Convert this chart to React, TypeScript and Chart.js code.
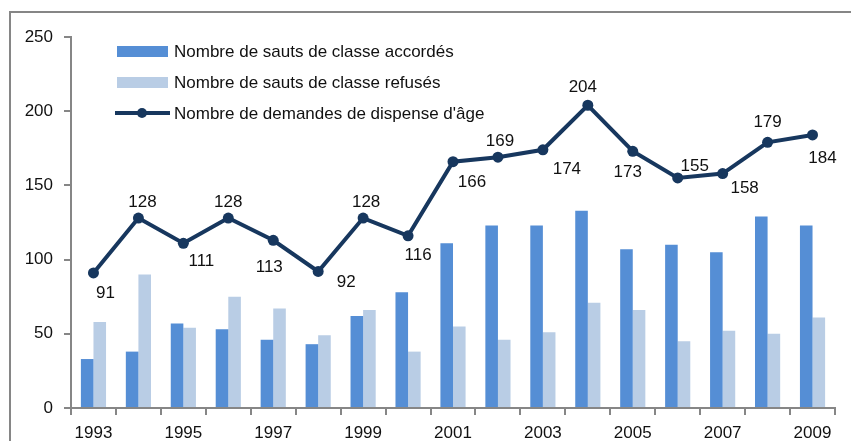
import React, { useEffect, useRef } from "react";
import { Chart, registerables } from "chart.js";

Chart.register(...registerables);

const YEARS = ["1993", "1994", "1995", "1996", "1997", "1998", "1999", "2000", "2001", "2002", "2003", "2004", "2005", "2006", "2007", "2008", "2009"];
const ACCORDES = [33, 38, 57, 53, 46, 43, 62, 78, 111, 123, 123, 133, 107, 110, 105, 129, 123];
const REFUSES = [58, 90, 54, 75, 67, 49, 66, 38, 55, 46, 51, 71, 66, 45, 52, 50, 61];
const DEMANDES = [91, 128, 111, 128, 113, 92, 128, 116, 166, 169, 174, 204, 173, 155, 158, 179, 184];
const Y_TICKS = [0, 50, 100, 150, 200, 250];

const LABEL_ACCORDES = "Nombre de sauts de classe accordés";
const LABEL_REFUSES = "Nombre de sauts de classe refusés";
const LABEL_DEMANDES = "Nombre de demandes de dispense d'âge";

// label placement offsets (style only)
const LABEL_OFFSETS: [number, number][] = [
  [12, 20], [4, -16], [18, 18], [0, -16], [-4, 27], [28, 11], [3, -16], [10, 19],
  [19, 21], [2, -16], [24, 20], [-5, -18], [-5, 21], [17, -12], [22, 15], [0, -20], [10, 23],
];

const FONT = '"Liberation Sans", Arial, sans-serif';
const FS = 17;
const C_ACC = "#558ED5";
const C_REF = "#B9CDE5";
const C_LINE = "#17375E";
const C_AXIS = "#868686";

const legendPlugin = {
  id: "customLegend",
  afterDraw(chart: any) {
    const ctx = chart.ctx;
    ctx.save();
    ctx.font = `${FS}px ${FONT}`;
    ctx.textBaseline = "middle";
    ctx.textAlign = "left";
    chart.data.datasets.forEach((d: any, i: number) => {
      const y = 51 + i * 31;
      if (d.type === "line") {
        ctx.strokeStyle = d.borderColor;
        ctx.lineWidth = 4;
        ctx.beginPath();
        ctx.moveTo(115, y);
        ctx.lineTo(170, y);
        ctx.stroke();
        ctx.fillStyle = d.borderColor;
        ctx.beginPath();
        ctx.arc(142, y, 5, 0, Math.PI * 2);
        ctx.fill();
      } else {
        ctx.fillStyle = d.backgroundColor;
        ctx.fillRect(117, y - 5, 51, 11);
      }
      ctx.fillStyle = "#111";
      ctx.fillText(d.label, 174, y + 1);
    });
    ctx.restore();
  },
};

const dataLabelPlugin = {
  id: "lineLabels",
  afterDatasetsDraw(chart: any) {
    const ctx = chart.ctx;
    ctx.save();
    ctx.font = `${FS}px ${FONT}`;
    ctx.textBaseline = "middle";
    ctx.textAlign = "center";
    ctx.fillStyle = "#111";
    chart.data.datasets.forEach((d: any, di: number) => {
      if (d.type !== "line") return;
      const meta = chart.getDatasetMeta(di);
      meta.data.forEach((el: any, i: number) => {
        const [dx, dy] = LABEL_OFFSETS[i] || [0, -16];
        ctx.fillText(String(d.data[i]), el.x + dx, el.y + dy);
      });
    });
    ctx.restore();
  },
};

export default function App() {
  const ref = useRef<HTMLCanvasElement | null>(null);
  useEffect(() => {
    if (!ref.current) return;
    const chart = new Chart(ref.current, {
      type: "bar",
      data: {
        labels: YEARS,
        datasets: [
          {
            type: "bar",
            label: LABEL_ACCORDES,
            data: ACCORDES,
            backgroundColor: C_ACC,
            borderWidth: 0,
            categoryPercentage: 0.56,
            barPercentage: 1,
            order: 1,
          },
          {
            type: "bar",
            label: LABEL_REFUSES,
            data: REFUSES,
            backgroundColor: C_REF,
            borderWidth: 0,
            categoryPercentage: 0.56,
            barPercentage: 1,
            order: 1,
          },
          {
            type: "line",
            label: LABEL_DEMANDES,
            data: DEMANDES,
            borderColor: C_LINE,
            backgroundColor: C_LINE,
            borderWidth: 4,
            pointRadius: 5.5,
            pointBackgroundColor: C_LINE,
            pointBorderWidth: 0,
            tension: 0,
            order: 0,
          },
        ] as any,
      },
      options: {
        animation: false,
        responsive: false,
        devicePixelRatio: 1,
        layout: { padding: { left: 0, right: 16, top: 37, bottom: 0 } },
        plugins: { legend: { display: false }, tooltip: { enabled: false } },
        scales: {
          x: {
            offset: true,
            grid: { offset: true, drawOnChartArea: false, drawTicks: true, tickLength: 7, color: C_AXIS, lineWidth: 2 },
            border: { color: C_AXIS, width: 2 },
            ticks: {
              autoSkip: false,
              maxRotation: 0,
              padding: 8,
              color: "#111",
              font: { family: FONT, size: FS },
              callback: (_v: any, i: number) => (i % 2 === 0 ? YEARS[i] : ""),
            },
            afterFit: (s: any) => { s.height = 33; },
          },
          y: {
            min: 0,
            max: 250,
            afterBuildTicks: (s: any) => { s.ticks = Y_TICKS.map((v) => ({ value: v })); },
            grid: { drawOnChartArea: false, drawTicks: true, tickLength: 7, color: C_AXIS, lineWidth: 2 },
            border: { color: C_AXIS, width: 2 },
            ticks: { padding: 11, color: "#111", font: { family: FONT, size: FS } },
            afterFit: (s: any) => { s.width = 71; },
          },
        },
      },
      plugins: [dataLabelPlugin, legendPlugin],
    });
    return () => chart.destroy();
  }, []);

  return (
    <div style={{ position: "fixed", left: 0, top: 0, width: 851, height: 441, overflow: "hidden", background: "#fff" }}>
      <div style={{ position: "absolute", left: 9, top: 11, width: 900, height: 500, border: `2px solid ${C_AXIS}`, boxSizing: "border-box" }} />
      <canvas ref={ref} width={851} height={441} style={{ position: "absolute", left: 0, top: 0, width: 851, height: 441 }} />
    </div>
  );
}
